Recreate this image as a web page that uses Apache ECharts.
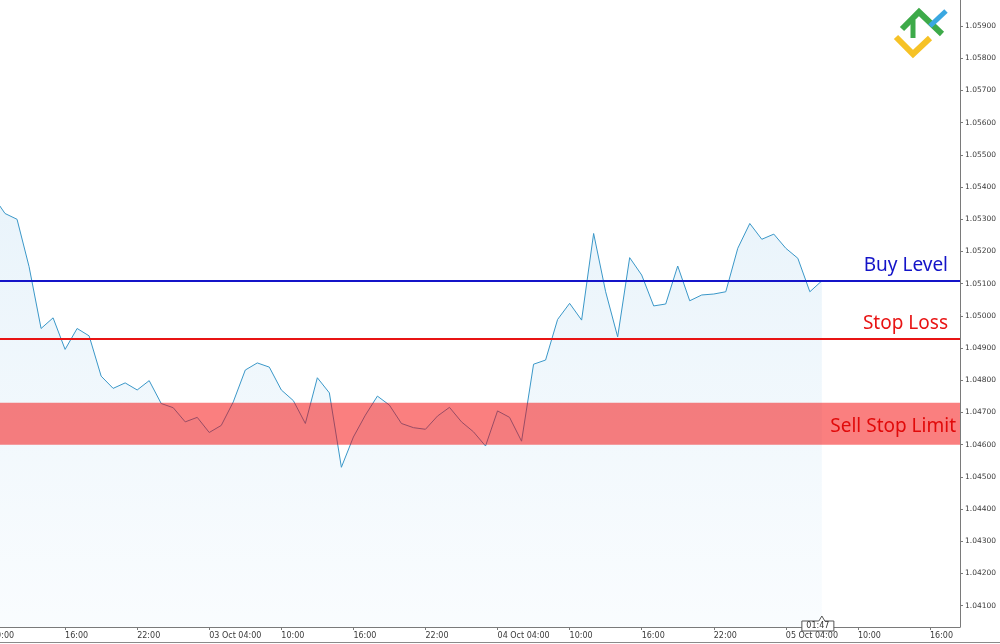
<!DOCTYPE html>
<html><head><meta charset="utf-8">
<script src="https://cdn.jsdelivr.net/npm/echarts@6/dist/echarts.min.js"></script>
<style>html,body{margin:0;padding:0;background:#fff}#c{width:1000px;height:644px}</style>
</head><body><div id="c"></div>
<script>
// x values are hours after 02 Oct 04:00; first price is at 02 Oct 10:00, then hourly
const firstHour = 6;
const prices = [
  1.05372, 1.05318, 1.05300, 1.05153, 1.04961, 1.04994, 1.04896, 1.04961, 1.04938, 1.04813, 1.04775, 1.04792, 1.04770, 1.04799,
  1.04728, 1.04715, 1.04671, 1.04685, 1.04638, 1.04660, 1.04733, 1.04832, 1.04854, 1.04841, 1.04770, 1.04737,
  1.04666, 1.04808, 1.04761, 1.04530, 1.04624, 1.04692, 1.04751, 1.04723, 1.04666, 1.04653, 1.04648, 1.04689,
  1.04716, 1.04671, 1.04640, 1.04596, 1.04705, 1.04685, 1.04611, 1.04850, 1.04863, 1.04989, 1.05039, 1.04987,
  1.05256, 1.05075, 1.04935, 1.05181, 1.05127, 1.05031, 1.05037, 1.05155, 1.05047, 1.05065, 1.05068, 1.05075,
  1.05210, 1.05287, 1.05238, 1.05254, 1.05210, 1.05179, 1.05075, 1.05109
];
// x tick positions (hours after 02 Oct 04:00): 16:00, 22:00, 03 Oct 04:00 ...
const xTicks = [12, 18, 24, 30, 36, 42, 48, 54, 60, 66, 72, 78, 84];
const yTicks = [1.041,1.042,1.043,1.044,1.045,1.046,1.047,1.048,1.049,1.050,1.051,1.052,1.053,1.054,1.055,1.056,1.057,1.058,1.059];
const buyLevel = 1.0511;
const stopLoss = 1.0493;
const sellStopLimit = [1.0460, 1.0473];
const levelNames = ['Buy Level', 'Stop Loss', 'Sell Stop Limit'];
const timerText = '01:47';

const chart = echarts.init(document.getElementById('c'));
const data = prices.map((p, i) => [firstHour + i, p]);
const pad = n => (n < 10 ? '0' : '') + n;
function fmtX(v) {
  const h = Math.round(v) + 4;
  const d = 2 + Math.floor(h / 24);
  const hh = h % 24;
  return hh === 4 ? pad(d) + ' Oct 04:00' : pad(hh) + ':00';
}
const axisColor = '#7a7a7a';
const labelFont = 'DejaVu Sans';

chart.setOption({
  animation: false,
  backgroundColor: '#ffffff',
  grid: { left: 0, right: 40, top: 0, bottom: 17 },
  xAxis: {
    type: 'value', min: 6.58, max: 86.5,
    axisLine: { show: true, lineStyle: { color: axisColor, width: 1 } },
    axisTick: { show: true, length: 3, customValues: xTicks, lineStyle: { color: axisColor } },
    axisLabel: { customValues: xTicks, formatter: fmtX, align: 'left', margin: 5, color: '#3a3a3a', fontFamily: labelFont, fontSize: 8 },
    splitLine: { show: false }
  },
  yAxis: {
    type: 'value', position: 'right', min: 1.04034, max: 1.05981,
    axisLine: { show: true, lineStyle: { color: axisColor, width: 1 } },
    axisTick: { show: true, length: 3, customValues: yTicks, lineStyle: { color: axisColor } },
    axisLabel: { customValues: yTicks, formatter: v => v.toFixed(5), margin: 5, color: '#3a3a3a', fontFamily: labelFont, fontSize: 7.5 },
    splitLine: { show: false }
  },
  series: [
    {
      type: 'line', data: data, symbol: 'none', z: 2,
      lineStyle: { color: '#3a97c8', width: 1 },
      areaStyle: {
        origin: 'start',
        color: new echarts.graphic.LinearGradient(0, 0, 0, 1, [
          { offset: 0, color: '#e0eff9' }, { offset: 1, color: '#f7fbfe' }
        ])
      },
      markArea: {
        silent: true, z: 4,
        itemStyle: { color: 'rgba(245,0,0,0.5)' },
        label: { show: true, position: 'insideRight', distance: 4, offset: [0, 3], color: '#e10a0a', fontSize: 19, fontFamily: 'Noto Sans', formatter: '{b}' },
        data: [[{ yAxis: sellStopLimit[1], x: 0, name: levelNames[2] }, { yAxis: sellStopLimit[0], x: 960 }]]
      },
      markLine: {
        silent: true, symbol: 'none', z: 6,
        label: { show: true, position: 'insideEndTop', distance: [12, 5], fontSize: 19, fontFamily: 'Noto Sans', formatter: '{b}' },
        data: [
          [{ yAxis: buyLevel, x: 0, name: levelNames[0] }, { yAxis: buyLevel, x: 960 }],
          [{ yAxis: stopLoss, x: 0, name: levelNames[1] }, { yAxis: stopLoss, x: 960 }]
        ].map((d, i) => {
          const c = i === 0 ? '#1414c8' : '#e81414';
          d[0].lineStyle = { color: c, width: 2, type: 'solid' };
          d[0].label = { color: c };
          return d;
        })
      }
    }
  ]
});

// current-time marker on the x axis, positioned from the last data point
const lastX = chart.convertToPixel({ xAxisIndex: 0 }, firstHour + prices.length - 1);
const axisY = chart.convertToPixel({ yAxisIndex: 0 }, 1.04034);
chart.setOption({
  graphic: [
    { type: 'line', shape: { x1: 0, y1: 642.5, x2: 1000, y2: 642.5 }, style: { stroke: '#8a8a8a', lineWidth: 1 } },
    {
      type: 'polygon', z: 100,
      shape: { points: [[lastX - 20, axisY - 6], [lastX - 3, axisY - 6], [lastX, axisY - 11], [lastX + 3, axisY - 6], [lastX + 12, axisY - 6], [lastX + 12, axisY + 4], [lastX - 20, axisY + 4]] },
      style: { fill: '#ffffff', stroke: '#555555', lineWidth: 1 }
    },
    { type: 'text', z: 101, x: lastX - 4, y: axisY - 1, style: { text: timerText, fill: '#333', font: '8px DejaVu Sans', align: 'center', verticalAlign: 'middle' } },
    { type: 'text', z: 101, x: -9, y: axisY + 5, style: { text: fmtX(6), fill: '#3a3a3a', font: '8px DejaVu Sans', align: 'left', verticalAlign: 'top' } },
    { type: 'polyline', z: 50, shape: { points: [[896, 37], [913, 54], [930, 38]] }, style: { stroke: '#f6c226', lineWidth: 6, fill: null } },
    { type: 'polyline', z: 51, shape: { points: [[902, 29], [919, 12], [942, 34]] }, style: { stroke: '#3daa49', lineWidth: 6, fill: null } },
    { type: 'polyline', z: 51, shape: { points: [[913, 20], [913, 38]] }, style: { stroke: '#3daa49', lineWidth: 5, fill: null } },
    { type: 'polyline', z: 52, shape: { points: [[930, 26], [946, 11]] }, style: { stroke: '#3aa7e0', lineWidth: 5, fill: null } }
  ]
});
</script>
</body></html>
